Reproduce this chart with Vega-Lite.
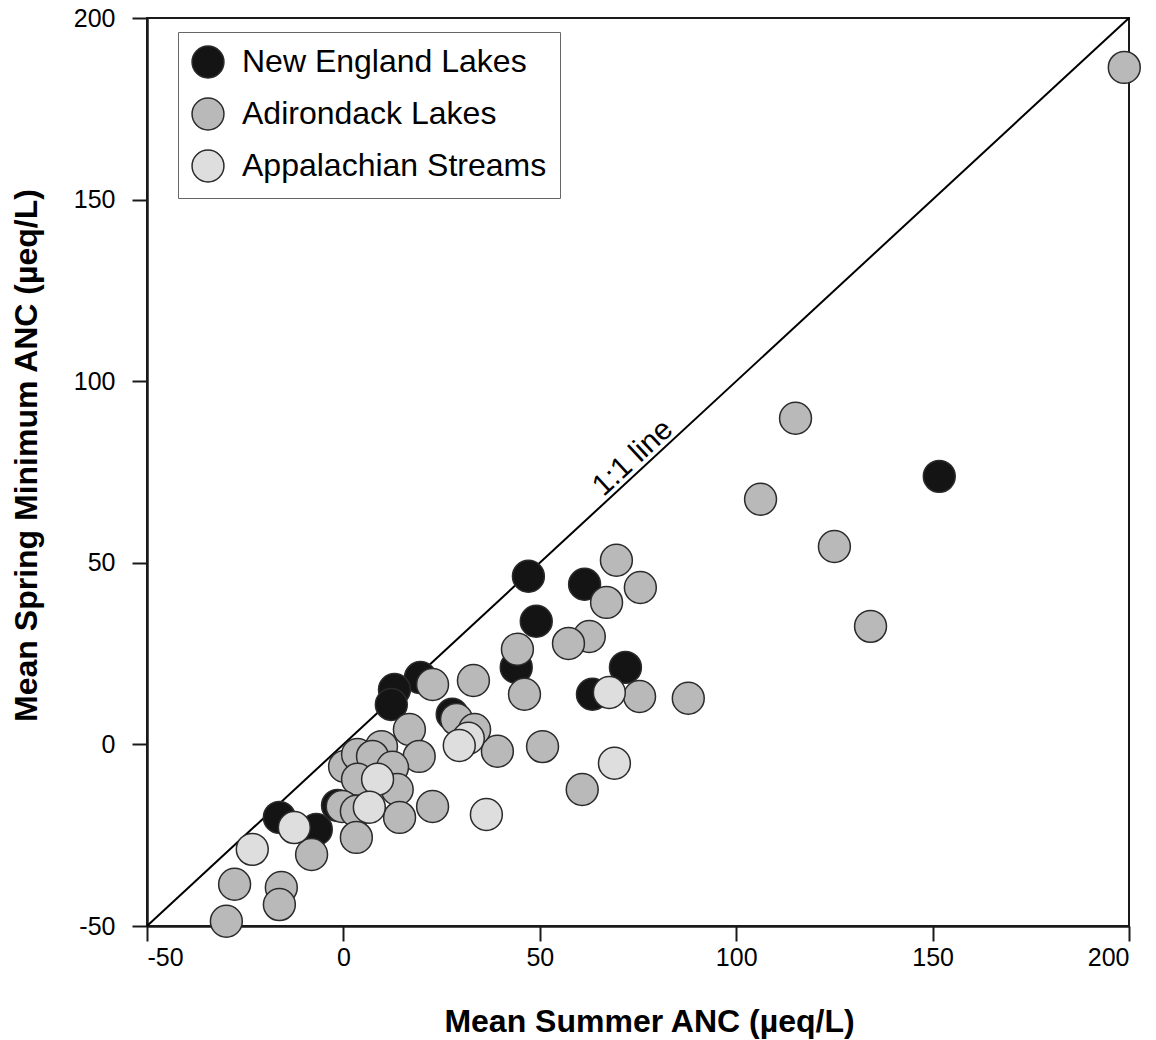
{
  "$schema": "https://vega.github.io/schema/vega-lite/v6.json",
  "width": 982,
  "height": 908,
  "autosize": {"type": "none"},
  "padding": {"left": 147, "top": 18, "right": 27, "bottom": 114},
  "background": "white",
  "config": {
    "font": "Liberation Sans",
    "view": {"stroke": "#1a1a1a", "strokeWidth": 2},
    "axis": {
      "grid": false,
      "domainColor": "#1a1a1a",
      "domainWidth": 2.5,
      "tickColor": "#1a1a1a",
      "tickWidth": 2,
      "tickSize": 15,
      "labelFont": "Liberation Sans",
      "labelFontSize": 25,
      "labelColor": "black",
      "titleFont": "Liberation Sans",
      "titleFontSize": 32,
      "titleFontWeight": "bold",
      "titleColor": "black"
    }
  },
  "datasets": {
    "points": [
      {"summer": 151.7, "spring": 73.8, "region": "New England Lakes"},
      {"summer": 47.1, "spring": 46.3, "region": "New England Lakes"},
      {"summer": 49.1, "spring": 33.9, "region": "New England Lakes"},
      {"summer": 61.4, "spring": 44.1, "region": "New England Lakes"},
      {"summer": 71.8, "spring": 21.2, "region": "New England Lakes"},
      {"summer": 63.4, "spring": 13.8, "region": "New England Lakes"},
      {"summer": 44.0, "spring": 21.2, "region": "New England Lakes"},
      {"summer": 19.6, "spring": 18.4, "region": "New England Lakes"},
      {"summer": 13.0, "spring": 15.1, "region": "New England Lakes"},
      {"summer": 12.2, "spring": 11.0, "region": "New England Lakes"},
      {"summer": 27.7, "spring": 8.3, "region": "New England Lakes"},
      {"summer": -16.3, "spring": -20.1, "region": "New England Lakes"},
      {"summer": -6.9, "spring": -23.4, "region": "New England Lakes"},
      {"summer": -1.5, "spring": -16.8, "region": "New England Lakes"},
      {"summer": 198.8, "spring": 186.4, "region": "Adirondack Lakes"},
      {"summer": 115.1, "spring": 89.8, "region": "Adirondack Lakes"},
      {"summer": 106.2, "spring": 67.5, "region": "Adirondack Lakes"},
      {"summer": 125.0, "spring": 54.5, "region": "Adirondack Lakes"},
      {"summer": 134.2, "spring": 32.5, "region": "Adirondack Lakes"},
      {"summer": 87.8, "spring": 12.7, "region": "Adirondack Lakes"},
      {"summer": 69.5, "spring": 50.7, "region": "Adirondack Lakes"},
      {"summer": 75.6, "spring": 43.2, "region": "Adirondack Lakes"},
      {"summer": 67.0, "spring": 39.1, "region": "Adirondack Lakes"},
      {"summer": 62.6, "spring": 29.7, "region": "Adirondack Lakes"},
      {"summer": 57.3, "spring": 27.8, "region": "Adirondack Lakes"},
      {"summer": 75.4, "spring": 13.2, "region": "Adirondack Lakes"},
      {"summer": 44.3, "spring": 26.2, "region": "Adirondack Lakes"},
      {"summer": 46.1, "spring": 13.8, "region": "Adirondack Lakes"},
      {"summer": 33.1, "spring": 17.6, "region": "Adirondack Lakes"},
      {"summer": 22.7, "spring": 16.5, "region": "Adirondack Lakes"},
      {"summer": 50.7, "spring": -0.6, "region": "Adirondack Lakes"},
      {"summer": 39.2, "spring": -1.9, "region": "Adirondack Lakes"},
      {"summer": 60.8, "spring": -12.4, "region": "Adirondack Lakes"},
      {"summer": 22.7, "spring": -17.1, "region": "Adirondack Lakes"},
      {"summer": 16.8, "spring": 4.1, "region": "Adirondack Lakes"},
      {"summer": 19.3, "spring": -3.3, "region": "Adirondack Lakes"},
      {"summer": 28.8, "spring": 6.9, "region": "Adirondack Lakes"},
      {"summer": 33.4, "spring": 4.1, "region": "Adirondack Lakes"},
      {"summer": 0.3, "spring": -6.1, "region": "Adirondack Lakes"},
      {"summer": 3.6, "spring": -2.8, "region": "Adirondack Lakes"},
      {"summer": 9.7, "spring": -0.6, "region": "Adirondack Lakes"},
      {"summer": 7.4, "spring": -3.3, "region": "Adirondack Lakes"},
      {"summer": 12.5, "spring": -6.3, "region": "Adirondack Lakes"},
      {"summer": 3.6, "spring": -9.6, "region": "Adirondack Lakes"},
      {"summer": 13.7, "spring": -12.4, "region": "Adirondack Lakes"},
      {"summer": -0.3, "spring": -17.1, "region": "Adirondack Lakes"},
      {"summer": 3.3, "spring": -18.4, "region": "Adirondack Lakes"},
      {"summer": 14.3, "spring": -20.1, "region": "Adirondack Lakes"},
      {"summer": 3.3, "spring": -25.6, "region": "Adirondack Lakes"},
      {"summer": -8.1, "spring": -30.3, "region": "Adirondack Lakes"},
      {"summer": -27.7, "spring": -38.5, "region": "Adirondack Lakes"},
      {"summer": -15.8, "spring": -39.4, "region": "Adirondack Lakes"},
      {"summer": -16.3, "spring": -44.1, "region": "Adirondack Lakes"},
      {"summer": -29.8, "spring": -48.7, "region": "Adirondack Lakes"},
      {"summer": 31.8, "spring": 1.7, "region": "Appalachian Streams"},
      {"summer": 29.5, "spring": -0.3, "region": "Appalachian Streams"},
      {"summer": 8.7, "spring": -9.6, "region": "Appalachian Streams"},
      {"summer": 6.6, "spring": -17.3, "region": "Appalachian Streams"},
      {"summer": 36.4, "spring": -19.3, "region": "Appalachian Streams"},
      {"summer": -12.5, "spring": -22.9, "region": "Appalachian Streams"},
      {"summer": -23.2, "spring": -28.9, "region": "Appalachian Streams"},
      {"summer": 69.0, "spring": -5.2, "region": "Appalachian Streams"},
      {"summer": 67.7, "spring": 14.3, "region": "Appalachian Streams"}
    ]
  },
  "layer": [
    {
      "data": {"values": [{"summer": -50, "spring": -50, "summer2": 200, "spring2": 200}]},
      "mark": {"type": "rule", "color": "black", "strokeWidth": 2},
      "encoding": {
        "x": {"field": "summer", "type": "quantitative", "scale": {"domain": [-50, 200], "nice": false, "zero": false}, "title": "Mean Summer ANC (µeq/L)"},
        "y": {"field": "spring", "type": "quantitative", "scale": {"domain": [-50, 200], "nice": false, "zero": false}, "title": "Mean Spring Minimum ANC (µeq/L)"},
        "x2": {"field": "summer2"},
        "y2": {"field": "spring2"}
      }
    },
    {
      "data": {"values": [{"summer": 73.7, "spring": 78.9, "label": "1:1 line"}]},
      "mark": {"type": "text", "angle": 317.24, "align": "center", "baseline": "middle", "fontSize": 30, "font": "Liberation Sans", "color": "black"},
      "encoding": {
        "x": {"field": "summer", "type": "quantitative", "title": "Mean Summer ANC (µeq/L)"},
        "y": {"field": "spring", "type": "quantitative", "title": "Mean Spring Minimum ANC (µeq/L)"},
        "text": {"field": "label"}
      }
    },
    {
      "data": {"name": "points"},
      "mark": {"type": "point", "shape": "circle", "filled": true, "size": 1018, "opacity": 1, "stroke": "#2b2b2b", "strokeWidth": 1.5},
      "encoding": {
        "x": {
          "field": "summer", "type": "quantitative",
          "title": "Mean Summer ANC (µeq/L)",
          "axis": {"values": [-50, 0, 50, 100, 150, 200], "labelExpr": "'' + datum.value", "labelPadding": 4, "titlePadding": 36, "titleX": 502}
        },
        "y": {
          "field": "spring", "type": "quantitative",
          "title": "Mean Spring Minimum ANC (µeq/L)",
          "axis": {"values": [-50, 0, 50, 100, 150, 200], "labelExpr": "'' + datum.value", "labelPadding": 17, "titlePadding": 30, "titleY": 437}
        },
        "color": {
          "field": "region", "type": "nominal",
          "scale": {"domain": ["New England Lakes", "Adirondack Lakes", "Appalachian Streams"], "range": ["#141414", "#b9b9b9", "#dedede"]},
          "legend": {
            "title": null,
            "orient": "none",
            "legendX": 31,
            "legendY": 14,
            "padding": 13,
            "strokeColor": "#666666",
            "fillColor": "white",
            "symbolType": "circle",
            "symbolSize": 1018,
            "symbolStrokeColor": "#2b2b2b",
            "symbolStrokeWidth": 1.5,
            "symbolOpacity": 1,
            "labelFont": "Liberation Sans",
            "labelFontSize": 32,
            "labelColor": "black",
            "labelOffset": 17,
            "rowPadding": 14,
            "labelLimit": 500
          }
        }
      }
    }
  ]
}
